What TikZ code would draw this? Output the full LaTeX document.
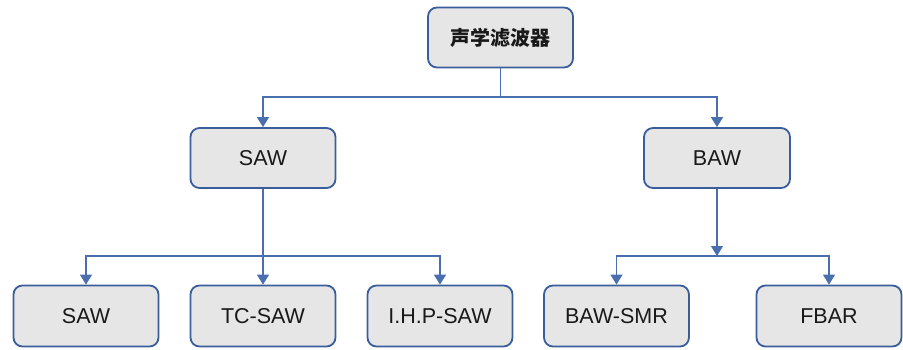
\documentclass[tikz,border=0pt]{standalone}
\usepackage{fontspec}
\setmainfont{Liberation Sans}
\newfontfamily\cjk{Noto Sans CJK SC}
\usetikzlibrary{arrows.meta}
\definecolor{boxfill}{HTML}{E6E6E6}
\definecolor{boxline}{HTML}{3A5D9C}
\definecolor{linkline}{HTML}{4A6FAE}
\begin{document}
\begin{tikzpicture}[x=1pt,y=-1pt,
  box/.style={draw=boxline, line width=1.8pt, fill=boxfill, rounded corners=9pt,
    minimum width=145pt, minimum height=60pt, inner sep=0pt,
    font=\fontsize{21.5}{25}\selectfont, text=black!90},
  link/.style={draw=linkline, line width=1.3pt},
  arr/.style={link, -{Triangle[width=12pt,length=10pt]}}]
\useasboundingbox (0,0) rectangle (903,350);
% tree nodes
\node[box, font=\cjk\bfseries\fontsize{20}{24}\selectfont] (root) at (500.5,37.5) {声学滤波器};
\node[box] (saw) at (263,158) {SAW};
\node[box, minimum width=146pt] (baw) at (717,158) {BAW};
\node[box, minimum height=61pt] (saw1) at (86,316) {SAW};
\node[box, minimum height=61pt] (tcsaw) at (263,316) {TC-SAW};
\node[box, minimum height=61pt] (ihp) at (440,316) {I.H.P-SAW};
\node[box, minimum height=61pt] (smr) at (616.5,316) {BAW-SMR};
\node[box, minimum height=61pt] (fbar) at (829,316) {FBAR};
% junction points
\coordinate (j0) at (500.5,97);
\coordinate (j1) at (263,256);
\coordinate (j2) at (717,256);
% root to SAW / BAW
\draw[link] (root.south) -- (j0);
\draw[arr] (j0) -| (saw.north);
\draw[arr] (j0) -| (baw.north);
% SAW branch
\draw[link] (saw.south) -- (j1);
\draw[arr] (j1) -| (saw1.north);
\draw[arr] (j1) -- (tcsaw.north);
\draw[arr] (j1) -| (ihp.north);
% BAW branch
\draw[arr] (baw.south) -- (j2);
\draw[arr] (j2) -| (smr.north);
\draw[arr] (j2) -| (fbar.north);
\end{tikzpicture}
\end{document}
